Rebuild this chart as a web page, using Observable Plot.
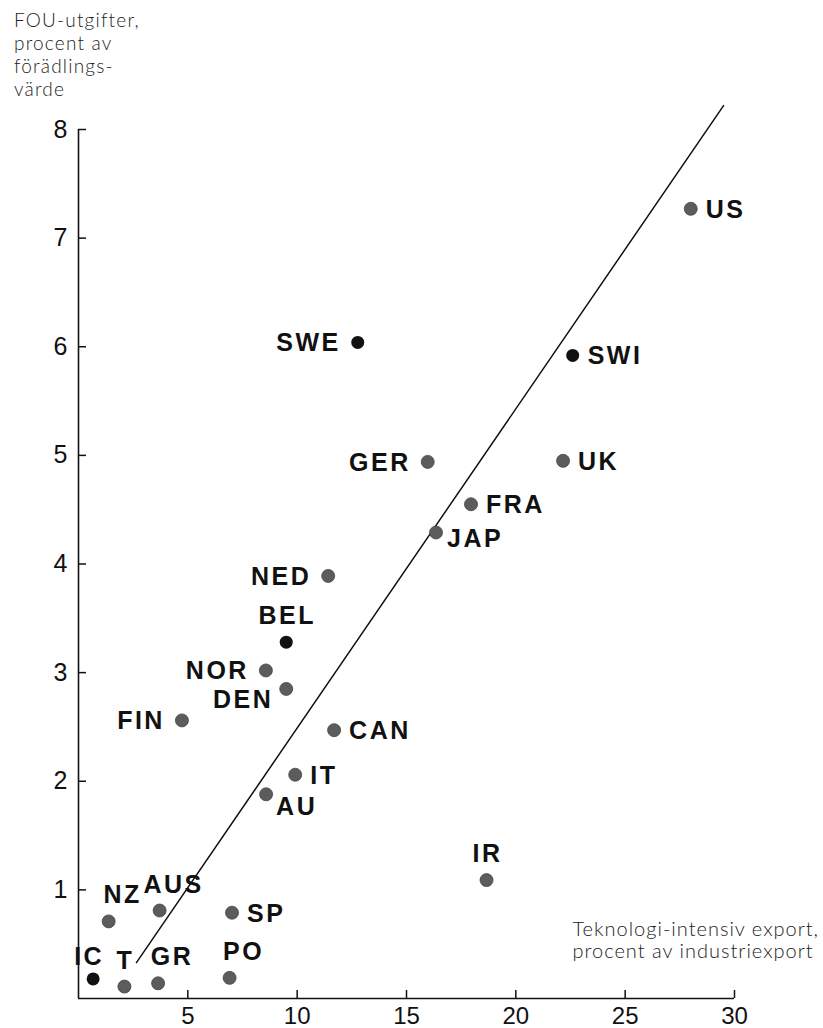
<!DOCTYPE html>
<html><head><meta charset="utf-8">
<script src="https://cdn.jsdelivr.net/npm/d3@7"></script>
<script src="https://cdn.jsdelivr.net/npm/@observablehq/plot@0.6"></script>
<style>
body{margin:0;background:#fff;}
#ytitle{font-family:Lato,"Open Sans",sans-serif;font-weight:300;font-size:19px;letter-spacing:1.2px;line-height:23px;padding:8px 0 0 14px;height:92px;color:#222;box-sizing:content-box;}
#chart svg g[aria-label="text"] text{letter-spacing:2.5px;}
#chart svg g.xtitle text{letter-spacing:1px;}
</style></head><body>
<div id="ytitle">FOU-utgifter,<br>procent av<br>förädlings-<br>värde</div>
<div id="chart"></div>
<script>
// Data
const countries  = ["US","SWE","SWI","GER","UK","FRA","JAP","NED","BEL","NOR","DEN","FIN","CAN","IT","AU","IR","NZ","AUS","SP","IC","T","GR","PO"];
const techExport = [28.0,12.77,22.6,15.97,22.16,17.95,16.35,11.42,9.5,8.57,9.5,4.73,11.69,9.91,8.58,18.66,1.38,3.71,7.02,0.67,2.1,3.64,6.91];
const rdShare    = [7.27,6.04,5.92,4.94,4.95,4.55,4.29,3.89,3.28,3.02,2.85,2.56,2.47,2.06,1.88,1.09,0.71,0.81,0.79,0.18,0.11,0.14,0.19];
const highlighted = ["SWE","SWI","BEL","IC"];
const labelSide  = ["right","left","right","left","right","right","rightBelow","left","above","left","belowLeft","left","right","right","belowRight","above","aboveRight","aboveRight","right","aboveLeft","above","aboveRight","aboveRight"];
const fitX = [2.65, 29.5];
const fitY = [0.33, 8.22];
const xTicks = [5,10,15,20,25,30];
const yTicks = [1,2,3,4,5,6,7,8];
const xTitle = "Teknologi-intensiv export,\nprocent av industriexport";

const rows = countries.map((c,i)=>({country:c, x:techExport[i], y:rdShare[i], side:labelSide[i], dark:highlighted.includes(c)}));
const fitLine = fitX.map((x,i)=>({x, y:fitY[i]}));

const placement = {
  right:{dx:15,dy:1,textAnchor:"start"},
  rightBelow:{dx:11,dy:7,textAnchor:"start"},
  left:{dx:-17,dy:1,textAnchor:"end"},
  above:{dx:1,dy:-26,textAnchor:"middle"},
  aboveRight:{dx:14,dy:-26,textAnchor:"middle"},
  aboveLeft:{dx:-4,dy:-22,textAnchor:"middle"},
  belowLeft:{dx:-13,dy:11,textAnchor:"end"},
  belowRight:{dx:10,dy:13,textAnchor:"start"}
};
const labelFont = "'Liberation Sans', Arial, Helvetica, sans-serif";
const labelMarks = Object.entries(placement).map(([side,p]) =>
  Plot.text(rows.filter(d=>d.side===side), {x:"x", y:"y", text:"country", dx:p.dx, dy:p.dy, textAnchor:p.textAnchor,
    fontSize:25, fontWeight:"bold", fontFamily:labelFont, fill:"#111"}));

const chart = Plot.plot({
  width: 823, height: 928,
  marginLeft: 78, marginRight: 89, marginTop: 29, marginBottom: 30,
  style: {fontFamily: labelFont, color:"#111", background:"#fff"},
  x: {domain:[0,30], axis:null},
  y: {domain:[0,8], axis:null},
  marks: [
    Plot.ruleX([0], {y1:0, y2:8, stroke:"#111", strokeWidth:1.6}),
    Plot.ruleY([0], {x1:0, x2:30, stroke:"#111", strokeWidth:1.6}),
    Plot.axisY(yTicks, {tickSize:8, dx:8, fill:"none", stroke:"#111", strokeWidth:1.5, label:null}),
    Plot.axisY(yTicks, {tickSize:0, tickPadding:11, tickFormat:"d", fontSize:25, fill:"#111", label:null}),
    Plot.axisX(xTicks, {tickSize:8, dy:-8, fill:"none", stroke:"#111", strokeWidth:1.5, label:null}),
    Plot.axisX(xTicks, {tickSize:0, tickPadding:8, tickFormat:"d", fontSize:24, fill:"#111", label:null}),
    Plot.line(fitLine, {x:"x", y:"y", stroke:"#111", strokeWidth:1.5}),
    Plot.dot(rows.filter(d=>!d.dark), {x:"x", y:"y", r:6.5, fill:"#5c5c5c", stroke:"#444", strokeWidth:0.8}),
    Plot.dot(rows.filter(d=>d.dark), {x:"x", y:"y", r:6.5, fill:"#111"}),
    ...labelMarks,
    Plot.text([xTitle], {text:d=>d, frameAnchor:"bottom-right", textAnchor:"start", lineAnchor:"bottom",
      dx:-162, dy:-41, fontSize:20, fontWeight:300, lineHeight:1.08, fontFamily:"Lato, 'Open Sans', sans-serif", fill:"#222",
      className:"xtitle"})
  ]
});
document.getElementById("chart").appendChild(chart);
</script>
</body></html>
